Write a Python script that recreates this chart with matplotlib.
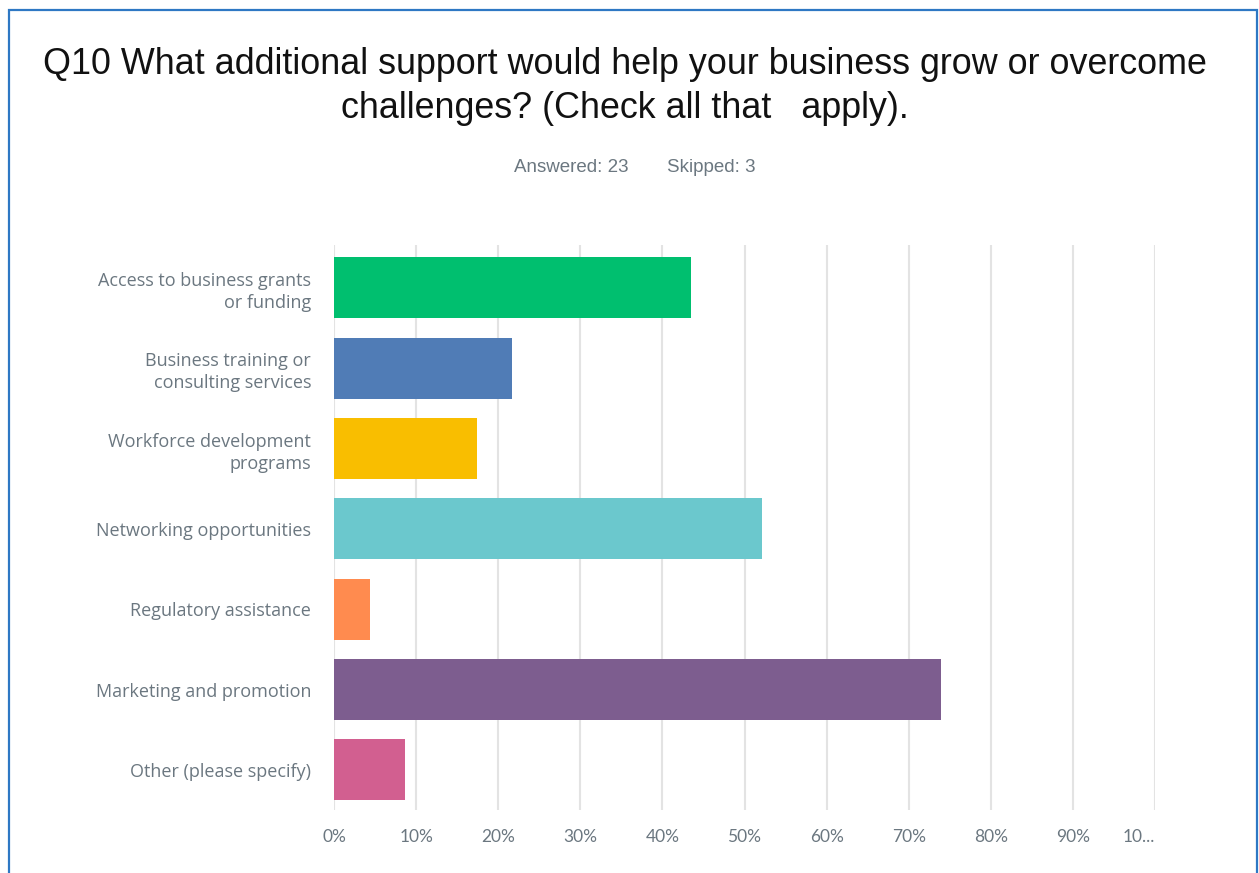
import matplotlib.pyplot as plt
from matplotlib.patches import Rectangle

categories = [
    "Access to business grants\nor funding",
    "Business training or\nconsulting services",
    "Workforce development\nprograms",
    "Networking opportunities",
    "Regulatory assistance",
    "Marketing and promotion",
    "Other (please specify)",
]
# share of the 23 respondents choosing each option, in percent
percent = [43.48, 21.74, 17.39, 52.17, 4.35, 73.91, 8.70]
colors = ["#00bf6f", "#507cb6", "#f9be00", "#6bc8cd", "#ff8b4f", "#7d5d8f", "#d25f90"]
ticks = [0, 10, 20, 30, 40, 50, 60, 70, 80, 90, 100]
tick_labels = ["0%", "10%", "20%", "30%", "40%", "50%", "60%", "70%", "80%", "90%", "10..."]

W, H = 1259, 873
fig = plt.figure(figsize=(W / 100, H / 100), dpi=100)
fig.patch.set_facecolor("white")

# blue frame around the whole card
fig.patches.append(Rectangle((9 / W, -0.05), (1257 - 9) / W, 1.05 - 10 / H,
                             transform=fig.transFigure, fill=False,
                             edgecolor="#2e78c4", linewidth=1.6))

fig.text(625 / W, 1 - 65 / H, "Q10 What additional support would help your business grow or overcome",
         ha="center", va="center", fontsize=25.8, family="Liberation Sans", color="#111111")
fig.text(625 / W, 1 - 108 / H, "challenges? (Check all that   apply).",
         ha="center", va="center", fontsize=25.8, family="Liberation Sans", color="#111111")
fig.text(571 / W, 1 - 167 / H, "Answered: 23",
         ha="center", va="center", fontsize=13.5, family="Liberation Sans", color="#6b7780")
fig.text(711 / W, 1 - 167 / H, "Skipped: 3",
         ha="center", va="center", fontsize=13.5, family="Liberation Sans", color="#6b7780")

ax = fig.add_axes([334 / W, 1 - 810 / H, (1155 - 334) / W, (810 - 245) / H])
y = list(range(len(categories)))
ax.barh(y, percent, height=0.76, color=colors, zorder=3)
ax.set_xlim(0, 100)
ax.set_ylim(6.5, -0.535)

ax.set_xticks(ticks)
ax.set_xticklabels(tick_labels)
ax.xaxis.grid(True, color="#e3e3e3", linewidth=1.5, zorder=0)
ax.tick_params(axis="x", length=0, pad=14, labelsize=12.5, labelcolor="#6b7780")
ax.tick_params(axis="y", length=0, pad=16.5, labelsize=13, labelcolor="#6b7780")
ax.set_yticks(y)
ax.set_yticklabels(categories, ha="right", linespacing=1.3)
for lab in ax.get_xticklabels():
    lab.set_family("Lato")
for lab in ax.get_yticklabels():
    lab.set_family("Open Sans")
ax.get_xticklabels()[-1].set_ha("right")
for s in ax.spines.values():
    s.set_visible(False)

fig.savefig("out.png", dpi=100)
